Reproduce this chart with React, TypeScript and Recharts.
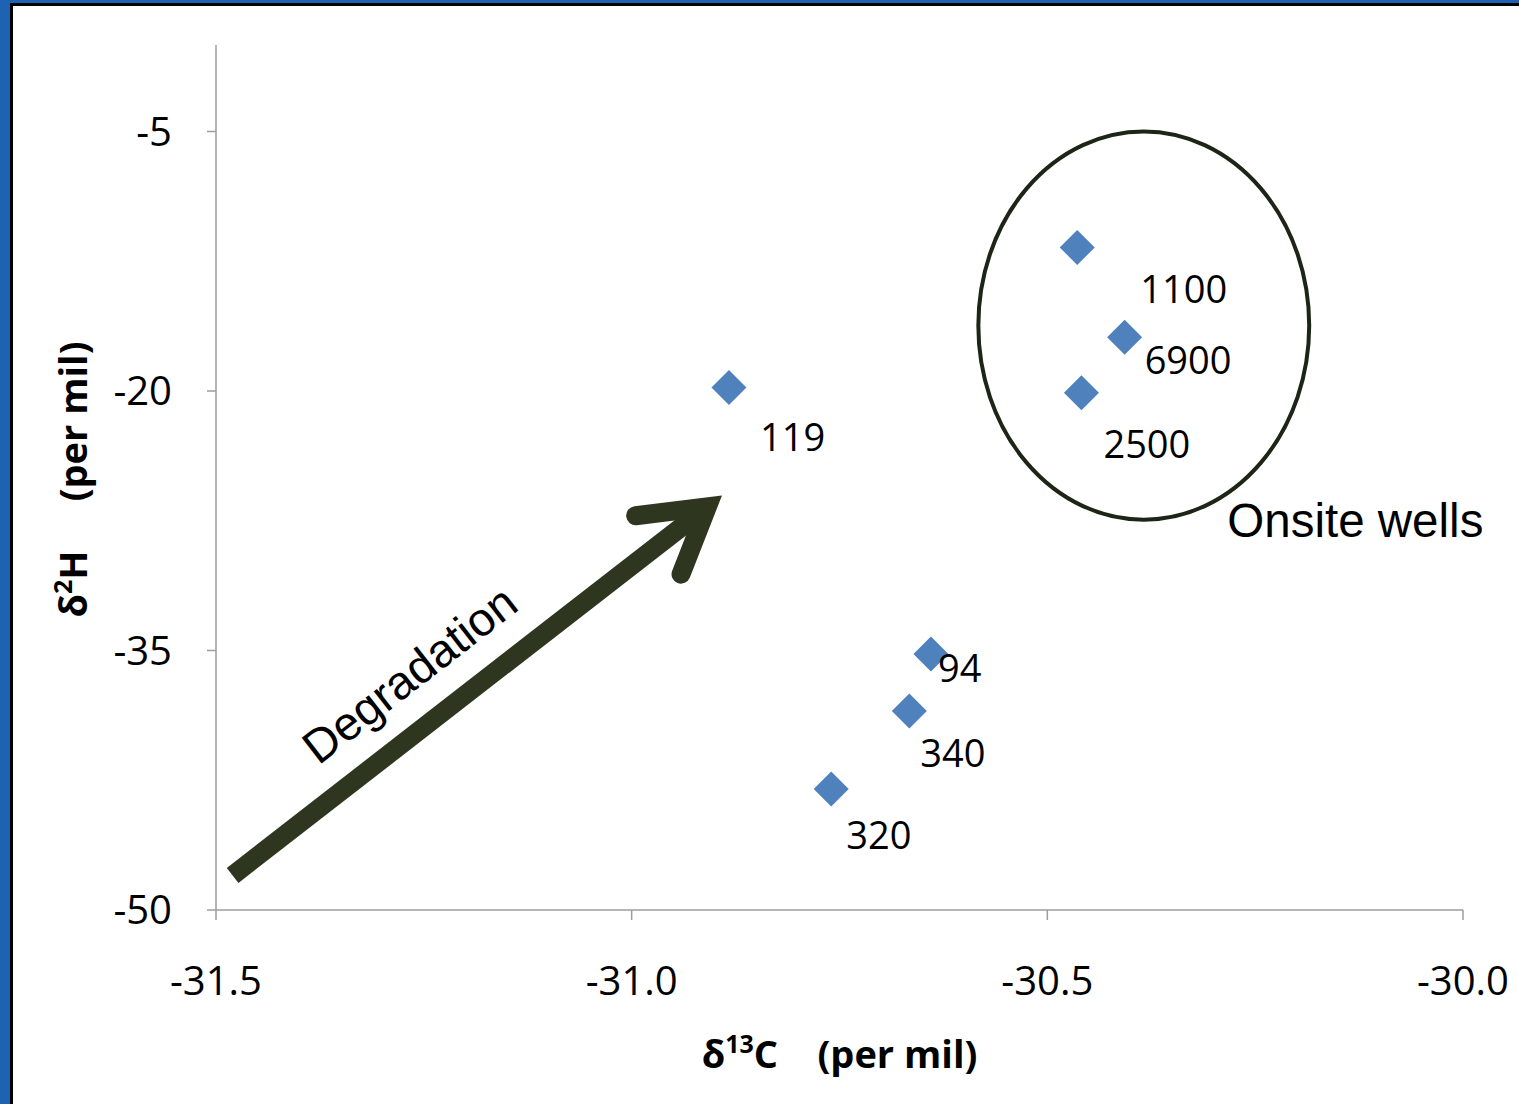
import React from "react";
import {
  LabelList,
  ReferenceArea,
  ReferenceLine,
  Scatter,
  ScatterChart,
  XAxis,
  YAxis,
  Label,
} from "recharts";

// well ids and isotope values
const wellIds = ["119", "1100", "6900", "2500", "94", "340", "320"];
const d13C = [-30.883, -30.464, -30.407, -30.459, -30.64, -30.666, -30.76];
const d2H = [-19.8, -11.7, -16.9, -20.1, -35.2, -38.5, -43.0];

const xTicks = [-31.5, -31.0, -30.5, -30.0];
const yTicks = [-50, -35, -20, -5];

// annotations, in data units
const arrowFrom = { x: -31.48, y: -48.0 };
const arrowTo = { x: -30.909, y: -26.7 };
const onsiteBox = { x1: -30.583, x2: -30.185, y1: -27.44, y2: -5 };

// where each label sits relative to its marker (px)
const labelOffsets: Record<string, [number, number]> = {
  "119": [31, 50],
  "1100": [63, 42],
  "6900": [20, 23],
  "2500": [22, 52],
  "94": [7, 15],
  "340": [11, 42],
  "320": [15, 47],
};

const points = wellIds.map((id, i) => ({ well: id, x: d13C[i], y: d2H[i] }));

const FONT = "'Open Sans', sans-serif";
const ARIAL = "'Liberation Sans', Arial, sans-serif";
const BLUE = "#4f81bd";
const DARK = "#2e3620";

const Diamond = (p: any) => {
  const { cx, cy } = p;
  const r = 17.5;
  return (
    <polygon
      points={`${cx},${cy - r} ${cx + r},${cy} ${cx},${cy + r} ${cx - r},${cy}`}
      fill={BLUE}
    />
  );
};

const WellLabel = (p: any) => {
  const vb = p.viewBox ?? p;
  const cx = vb.x + vb.width / 2;
  const cy = vb.y + vb.height / 2;
  const [dx, dy] = labelOffsets[String(p.value)] ?? [10, 30];
  return (
    <text x={cx + dx} y={cy + dy + 13.5} fontSize={38} fontFamily={FONT} fill="#000">
      {p.value}
    </text>
  );
};

const Arrow = (p: any) => {
  const { x1, y1, x2, y2 } = p;
  const len = Math.hypot(x2 - x1, y2 - y1);
  const ux = (x2 - x1) / len;
  const uy = (y2 - y1) / len;
  const nx = -uy;
  const ny = ux;
  const back = 62;
  const side = 37;
  const w1 = [x2 - ux * back + nx * side, y2 - uy * back + ny * side];
  const w2 = [x2 - ux * back - nx * side, y2 - uy * back - ny * side];
  const ang = (Math.atan2(uy, ux) * 180) / Math.PI;
  const tx = x1 + ux * 263;
  const ty = y1 + uy * 263;
  return (
    <g>
      <line x1={x1} y1={y1} x2={x2} y2={y2} stroke={DARK} strokeWidth={19} />
      <polyline
        points={`${w1[0]},${w1[1]} ${x2},${y2} ${w2[0]},${w2[1]}`}
        fill="none"
        stroke={DARK}
        strokeWidth={19}
        strokeLinecap="round"
        strokeLinejoin="miter"
        strokeMiterlimit={10}
      />
      <text
        x={0}
        y={-34}
        transform={`translate(${tx},${ty}) rotate(${ang})`}
        textAnchor="middle"
        fontSize={47}
        fontFamily={ARIAL}
        fill="#000"
      >
        Degradation
      </text>
    </g>
  );
};

const OnsiteEllipse = (p: any) => {
  const { x, y, width, height } = p;
  return (
    <g>
      <ellipse
        cx={x + width / 2}
        cy={y + height / 2}
        rx={width / 2}
        ry={height / 2}
        fill="none"
        stroke="#1d2616"
        strokeWidth={4}
      />
      <text x={x + 249} y={y + height + 17} fontSize={47.5} fontFamily={ARIAL} fill="#000">
        Onsite wells
      </text>
    </g>
  );
};

const XTitle = (p: any) => {
  const vb = p.viewBox;
  return (
    <text
      x={vb.x + vb.width / 2}
      y={vb.y + 158}
      textAnchor="middle"
      fontSize={38}
      fontWeight={700}
      fontFamily={FONT}
      fill="#000"
    >
      <tspan>δ</tspan>
      <tspan fontSize={25} dy={-15}>13</tspan>
      <tspan dy={15}>C{"\u00a0\u00a0\u00a0\u00a0"}(per mil)</tspan>
    </text>
  );
};

const YTitle = (p: any) => {
  const vb = p.viewBox;
  const cx = vb.x + 87;
  const cy = vb.y + vb.height / 2 + 2;
  return (
    <text
      x={0}
      y={0}
      transform={`translate(${cx},${cy}) rotate(-90)`}
      textAnchor="middle"
      fontSize={38}
      fontWeight={700}
      fontFamily={FONT}
      fill="#000"
    >
      <tspan>δ</tspan>
      <tspan fontSize={25} dy={-15}>2</tspan>
      <tspan dy={15}>H{"\u00a0\u00a0\u00a0\u00a0\u00a0"}(per mil)</tspan>
    </text>
  );
};

export default function App() {
  return (
    <div style={{ position: "absolute", left: 0, top: 0, width: 1519, height: 1104, background: "#1d62b3", overflow: "hidden" }}>
      <div style={{ position: "absolute", left: 10, top: 3, right: 0, bottom: 0, background: "#000" }} />
      <div style={{ position: "absolute", left: 13, top: 6, right: 0, bottom: 0, background: "#fff" }} />
      <div style={{ position: "absolute", left: 0, top: 0 }}>
        <ScatterChart
          width={1519}
          height={1104}
          margin={{ top: 45, right: 56, left: 0, bottom: 0 }}
          style={{ fontFamily: FONT }}
        >
          <XAxis
            type="number"
            dataKey="x"
            domain={[-31.5, -30]}
            ticks={xTicks}
            tickFormatter={(v: number) => v.toFixed(1)}
            height={194}
            tickSize={10}
            tickMargin={47}
            stroke="#9d9d9d"
            strokeWidth={1.5}
            tick={{ fontSize: 40, fill: "#000", fontFamily: FONT }}
            allowDataOverflow
          >
            <Label content={XTitle} />
          </XAxis>
          <YAxis
            type="number"
            dataKey="y"
            domain={[-50, 0]}
            ticks={yTicks}
            width={216}
            tickSize={9}
            tickMargin={35}
            stroke="#9d9d9d"
            strokeWidth={1.5}
            tick={{ fontSize: 40, fill: "#000", fontFamily: FONT }}
            allowDataOverflow
          >
            <Label content={YTitle} />
          </YAxis>
          <ReferenceArea
            x1={onsiteBox.x1}
            x2={onsiteBox.x2}
            y1={onsiteBox.y1}
            y2={onsiteBox.y2}
            shape={OnsiteEllipse}
            ifOverflow="visible"
          />
          <ReferenceLine
            segment={[arrowFrom, arrowTo]}
            shape={Arrow}
            ifOverflow="visible"
          />
          <Scatter data={points} shape={Diamond} isAnimationActive={false} legendType="none">
            <LabelList dataKey="well" content={WellLabel} />
          </Scatter>
        </ScatterChart>
      </div>
    </div>
  );
}
